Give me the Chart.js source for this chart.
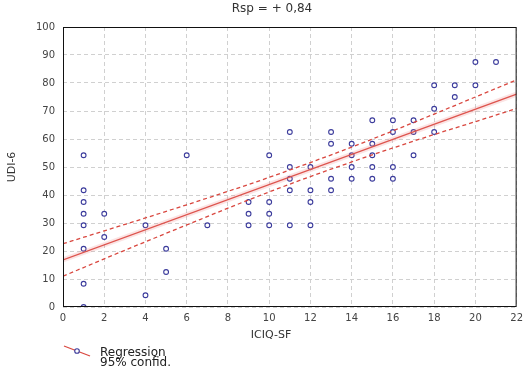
<!DOCTYPE html>
<html>
<head>
<meta charset="utf-8">
<script src="https://cdn.jsdelivr.net/npm/chart.js@4"></script>
<style>
  body { margin: 0; background: #fff; }
  #wrap { position: relative; width: 528px; height: 368px; }
  #legend { position: absolute; left: 63px; top: 343px; font: 12px "DejaVu Sans", sans-serif; color: #222; }
  #legend svg { position: absolute; left: 0; top: 1px; }
  #legend div { position: absolute; left: 37px; white-space: nowrap; line-height: 10px; }
</style>
</head>
<body>
<div id="wrap">
  <canvas id="RspChart" width="528" height="368"></canvas>
  <div id="legend">
    <svg width="28" height="14"><line x1="1" y1="2" x2="27" y2="12" stroke="#d9473f" stroke-width="1.3"/><circle cx="14" cy="7" r="2.3" fill="#fff" stroke="#3c3c9c" stroke-width="1.1"/></svg>
    <div style="top:4px">Regression</div>
    <div style="top:14px">95% confid.</div>
  </div>
</div>
<script>
var iciqScores = [1,1,1,1,1,1,1,1, 2,2, 4,4, 5,5, 6, 7, 9,9,9, 10,10,10,10, 11,11,11,11,11, 12,12,12,12, 13,13,13,13, 14,14,14,14, 15,15,15,15,15, 16,16,16,16, 17,17,17, 18,18,18, 19,19, 20,20, 21];
var udiScores = [54.2,41.7,37.5,33.3,29.2,20.8,8.3,0, 33.3,25, 29.2,4.2, 20.8,12.5, 54.2, 29.2, 37.5,33.3,29.2, 54.2,37.5,33.3,29.2, 62.5,50,45.8,41.7,29.2, 50,41.7,37.5,29.2, 62.5,58.3,45.8,41.7, 58.3,54.2,50,45.8, 66.7,58.3,54.2,50,45.8, 66.7,62.5,50,45.8, 66.7,62.5,54.2, 79.2,70.8,62.5, 79.2,75, 87.5,79.2, 87.5];

var regX = [0, 22];
var regY = [16.8, 76.0];

var bandX = [0, 2, 4, 6, 8, 10, 12, 14, 16, 18, 20, 22];
var bandUpper = [22.6, 27.2, 31.8, 36.5, 41.3, 46.3, 51.6, 57.1, 62.9, 68.9, 75.0, 81.1];
var bandLower = [11.0, 17.2, 23.3, 29.3, 35.3, 41.1, 46.6, 51.8, 56.8, 61.6, 66.2, 70.9];

function pairs(xs, ys) {
  return xs.map(function (x, i) { return { x: x, y: ys[i] }; });
}

var font = "'DejaVu Sans', sans-serif";

// box round the plot, plus the title and x axis title (both sit left of centre in the original)
var frame = {
  id: "frame",
  afterDraw: function (chart) {
    var a = chart.chartArea, ctx = chart.ctx;
    ctx.save();
    ctx.strokeStyle = "#111";
    ctx.lineWidth = 1;
    ctx.strokeRect(a.left + 0.5, a.top + 0.5, a.right - a.left - 1, a.bottom - a.top - 1);
    ctx.fillStyle = "#333";
    ctx.textAlign = "center";
    ctx.textBaseline = "middle";
    ctx.font = "12px " + font;
    ctx.fillText("Rsp = + 0,84", 272, 9);
    ctx.font = "11px " + font;
    ctx.fillText("ICIQ-SF", 271, 335);
    ctx.restore();
  }
};

const data_Rsp = {
  datasets: [
    {
      label: "glow",
      type: "line",
      data: pairs(regX, regY),
      borderColor: "rgba(235,130,130,0.22)",
      borderWidth: 5,
      pointRadius: 0,
    },
    {
      label: "Regression",
      type: "line",
      data: pairs(regX, regY),
      borderColor: "#d9473f",
      borderWidth: 1.4,
      pointRadius: 0,
    },
    {
      label: "upper",
      type: "line",
      data: pairs(bandX, bandUpper),
      borderColor: "#d9473f",
      borderWidth: 1.3,
      borderDash: [4, 3],
      pointRadius: 0,
      cubicInterpolationMode: "monotone",
    },
    {
      label: "lower",
      type: "line",
      data: pairs(bandX, bandLower),
      borderColor: "#d9473f",
      borderWidth: 1.3,
      borderDash: [4, 3],
      pointRadius: 0,
      cubicInterpolationMode: "monotone",
    },
    {
      label: "UDI-6",
      type: "scatter",
      data: pairs(iciqScores, udiScores),
      pointStyle: "circle",
      pointRadius: 2.4,
      borderColor: "#3c3c9c",
      backgroundColor: "#fff",
      borderWidth: 1.1,
    },
  ],
};

const config_Rsp = {
  type: "scatter",
  data: data_Rsp,
  plugins: [frame],
  options: {
    responsive: false,
    animation: false,
    layout: { padding: { top: 27, right: 11, bottom: 0, left: 0 } },
    scales: {
      x: {
        type: "linear",
        min: 0,
        max: 22,
        ticks: { stepSize: 2, padding: 5, color: "#444", font: { family: font, size: 10 } },
        grid: { color: "#d0d0d0", drawTicks: false },
        border: { display: false, dash: [4, 3] },
        afterFit: function (scale) { scale.height = 61; },
      },
      y: {
        min: 0,
        max: 100,
        ticks: { stepSize: 10, padding: 8, color: "#444", font: { family: font, size: 10 } },
        grid: { color: "#d0d0d0", drawTicks: false },
        border: { display: false, dash: [4, 3] },
        title: { display: true, text: "UDI-6", color: "#333", font: { family: font, size: 11 }, padding: { top: 6, bottom: 0 } },
        afterFit: function (scale) { scale.width = 63; },
      },
    },
    plugins: {
      title: { display: false },
      legend: { display: false },
      tooltip: { enabled: false },
    },
  },
};

const RspChart = new Chart(document.getElementById("RspChart"), config_Rsp);
</script>
</body>
</html>
